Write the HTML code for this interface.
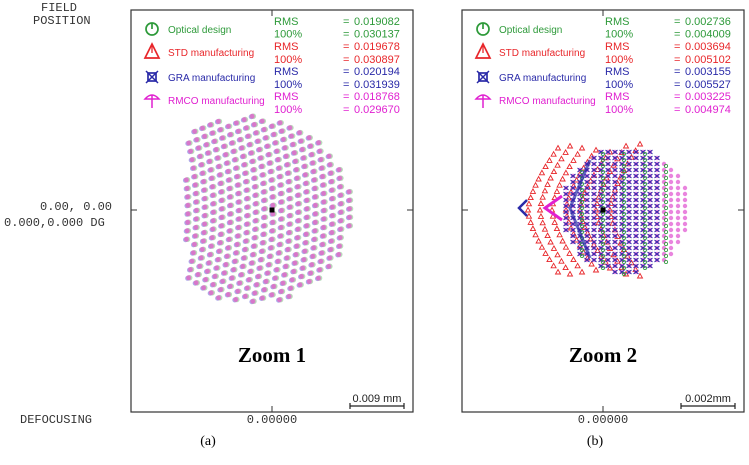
<!DOCTYPE html>
<html><head><meta charset="utf-8"><style>
body{margin:0;background:#fff;width:749px;height:460px;overflow:hidden}
svg text{font-family:"Liberation Sans",sans-serif}
.mono{font-family:"Liberation Mono",monospace;font-size:12px;fill:#333}
</style></head><body>
<svg id="chart" width="749" height="460">
<g>
<text class="mono" x="41" y="11">FIELD</text>
<text class="mono" x="33" y="24">POSITION</text>
<text class="mono" x="40" y="210">0.00, 0.00</text>
<text class="mono" x="4" y="226">0.000,0.000 DG</text>
<text class="mono" x="20" y="423">DEFOCUSING</text>
</g>
<g id="panels"></g>
</svg>
<script>
const seriesNames=["Optical design","STD manufacturing","GRA manufacturing","RMCO manufacturing"];
const seriesColors=["#2e9a3a","#e8262a","#2a2aa8","#e020d0"];
const rmsA=[0.019082,0.019678,0.020194,0.018768];
const fullA=[0.030137,0.030897,0.031939,0.029670];
const rmsB=[0.002736,0.003694,0.003155,0.003225];
const fullB=[0.004009,0.005102,0.005527,0.004974];
const panelLabels=["(a)","(b)"];
const zoomLabels=["Zoom 1","Zoom 2"];
const scaleLabels=["0.009 mm","0.002mm"];
const NS="http://www.w3.org/2000/svg";
const root=document.getElementById('panels');
function mk(tag,attrs,parent,txt){const e=document.createElementNS(NS,tag);for(const k in attrs)e.setAttribute(k,attrs[k]);if(txt!==undefined)e.textContent=txt;(parent||root).appendChild(e);return e;}
function icon(g,i,x,y,c){
 if(i==0){mk('circle',{cx:x,cy:y,r:6,fill:'none',stroke:c,'stroke-width':1.7},g);mk('line',{x1:x,y1:y-6,x2:x,y2:y,stroke:c,'stroke-width':1.7},g);}
 else if(i==1){mk('path',{d:`M${x} ${y-8}L${x+7} ${y+6}L${x-7} ${y+6}Z`,fill:'none',stroke:c,'stroke-width':1.7},g);mk('line',{x1:x,y1:y-8,x2:x,y2:y+1,stroke:c,'stroke-width':1.3},g);}
 else if(i==2){mk('rect',{x:x-4,y:y-4,width:8,height:8,fill:'none',stroke:c,'stroke-width':1.7},g);mk('path',{d:`M${x-6} ${y-6}L${x+6} ${y+6}M${x+6} ${y-6}L${x-6} ${y+6}`,stroke:c,'stroke-width':1.5},g);}
 else {mk('path',{d:`M${x-7} ${y-1}Q${x} ${y-9} ${x+7} ${y-1}Z M${x} ${y-5}L${x} ${y+8}`,fill:'none',stroke:c,'stroke-width':1.5},g);}
}
function panel(p,x0,rms,full){
 const W=282,y0=10,H=402,cx=x0+W/2,cy=210;
 const g=mk('g',{});
 
 
 const box=mk('rect',{x:x0,y:y0,width:W,height:H,fill:'#fff',stroke:'#333','stroke-width':1.2},g);
 
 mk('path',{d:`M${cx} ${y0}v6M${cx} ${y0+H}v-6M${x0} ${cy}h6M${x0+W} ${cy}h-6`,stroke:'#333','stroke-width':1},g);
 const lg=mk('g',{},g);
 for(let i=0;i<4;i++){
  const c=seriesColors[i];
  const e=mk('g',{},lg);
  const ly=[29,52,77,100][i];
  icon(e,i,x0+21,ly,c);
  mk('text',{x:x0+37,y:ly+4,'font-size':10,fill:c},e,seriesNames[i]);
  const ry=[25,50,75,100][i];
  mk('text',{x:cx+2,y:ry,'font-size':11,fill:c},e,'RMS');
  mk('text',{x:cx+71,y:ry,'font-size':11,fill:c},e,'=');
  mk('text',{x:cx+82,y:ry,'font-size':11,fill:c},e,rms[i].toFixed(6));
  const fy=[37.5,63,88,113][i];
  mk('text',{x:cx+2,y:fy,'font-size':11,fill:c},e,'100%');
  mk('text',{x:cx+71,y:fy,'font-size':11,fill:c},e,'=');
  mk('text',{x:cx+82,y:fy,'font-size':11,fill:c},e,full[i].toFixed(6));
 }
 const sg=mk('g',{},g);
 if(p==0){
  const ox=-100;
  for(let r=288;r<=462;r+=8.5){
   const dA=8.5/r;
   for(let a=-0.4;a<=0.4;a+=dA){
    const X=cx-272+(ox+r*Math.cos(a)), Y=cy+r*Math.sin(a);
    const dx=(X-(cx-22))/102,dy=(Y-cy)/94;
    if(X<186 || dx*dx+dy*dy>1) continue;
    mk('circle',{cx:X+1,cy:Y,r:2.8,fill:'#9ad0a0',opacity:0.7},sg);
    mk('circle',{cx:X-1,cy:Y+0.5,r:2.5,fill:'#8a8ae0',opacity:0.7},sg);
    mk('circle',{cx:X,cy:Y,r:2.5,fill:'#e070c8',opacity:0.85},sg);
   }
  }
 } else {
  [[528,62],[540,64],[552,62],[566,60],[580,58],[596,64],[610,66]].forEach(([ax,h])=>{
   for(let t=-1;t<=1.001;t+=0.1){const X=ax+(Math.abs(t)**1.5)*30, Y=cy+t*h;
    mk('path',{d:`M${X} ${Y-2.5}L${X+2.5} ${Y+2}L${X-2.5} ${Y+2}Z`,fill:'none',stroke:'#e8262a','stroke-width':0.9},sg);}
  });
  for(let X=566;X<=690;X+=7){for(let Y=146;Y<=272;Y+=6){
   const dx=(X-625)/64,dy=(Y-210)/64; if(dx*dx+dy*dy>1)continue;
   mk('circle',{cx:X,cy:Y,r:2.2,fill:'#e050d0',opacity:0.7},sg);
   if(X<662) mk('path',{d:`M${X-2.5} ${Y-2}L${X+2.5} ${Y+2}M${X+2.5} ${Y-2}L${X-2.5} ${Y+2}`,stroke:'#2a2aa8','stroke-width':1},sg);
   if((X+Y)%3==0 && X<670) mk('circle',{cx:X+2,cy:Y+2,r:1.6,fill:'none',stroke:'#2e9a3a','stroke-width':0.8},sg);
  }}
  mk('path',{d:'M527 200L519 208L527 216',fill:'none',stroke:'#2a2aa8','stroke-width':2.5},sg);
  mk('path',{d:'M562 196L545 208L562 220',fill:'none',stroke:'#e020d0','stroke-width':3},sg);
  mk('path',{d:'M590 160L570 208L590 258',fill:'none',stroke:'#2a2aa8','stroke-width':3,opacity:0.7},sg);
 }
 mk('rect',{x:cx-2.5,y:cy-2.5,width:5,height:5,fill:'#000'},g);
 const zt=mk('text',{x:cx,y:362,'font-size':21,'font-weight':'bold','text-anchor':'middle',style:'font-family:"Liberation Serif",serif'},g,zoomLabels[p]);
 
 const sb=mk('g',{},g);
 mk('text',{x:x0+W-36,y:402,'font-size':11,'text-anchor':'middle',fill:'#222'},sb,scaleLabels[p]);
 mk('path',{d:`M${x0+W-63} 406h54M${x0+W-63} 403v6M${x0+W-9} 403v6`,stroke:'#222','stroke-width':1.2},sb);
 const t0=mk('text',{x:cx,y:423,'text-anchor':'middle',class:'mono'},g,'0.00000');
 
 const pl=mk('text',{x:cx-64+(p==1?56:0),y:445,'font-size':14,'text-anchor':'middle',style:'font-family:"Liberation Serif",serif'},g,panelLabels[p]);
 
}
panel(0,131,rmsA,fullA);
panel(1,462,rmsB,fullB);
</script>
</body></html>
